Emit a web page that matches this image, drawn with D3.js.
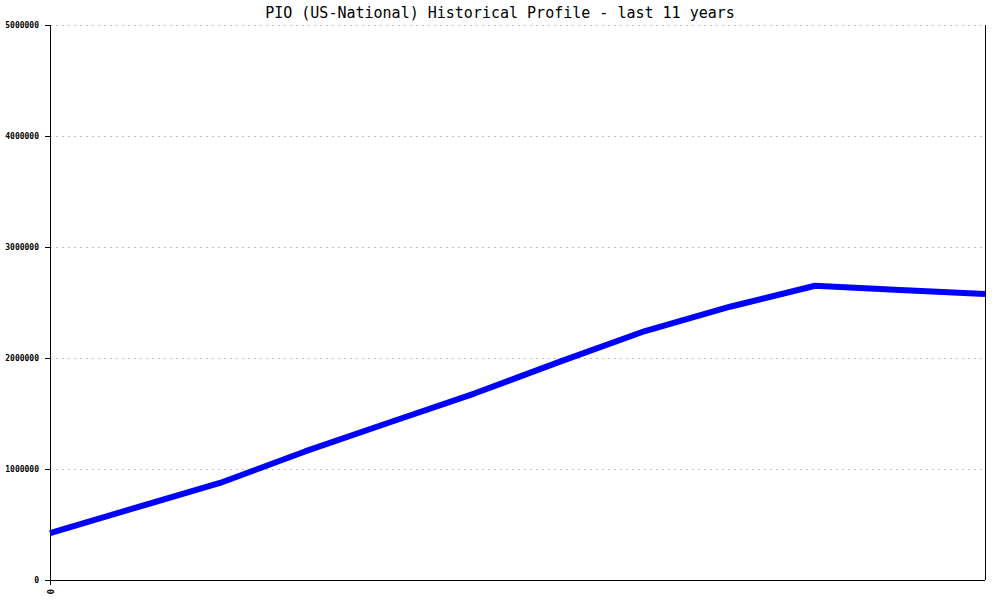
<!DOCTYPE html>
<html><head><meta charset="utf-8">
<script src="https://cdn.jsdelivr.net/npm/d3@7"></script>
<style>body{margin:0;background:#fff}svg{display:block}</style>
</head><body><svg id="c" width="1000" height="600"></svg>
<script>
const title = "PIO (US-National) Historical Profile - last 11 years";
const periods = [0,1,2,3,4,5,6,7,8,9,10,11];
const values = [423000, 649000, 874000, 1158000, 1421000, 1682000, 1967000, 2243000, 2462000, 2651000, 2613000, 2577000];
const yTicks = [0, 1000000, 2000000, 3000000, 4000000, 5000000];
const xTickLabels = ["0"];

const svg = d3.select("#c");
const L = 50, R = 985, T = 25, B = 580;
const x = d3.scaleLinear().domain([0, periods.length - 1]).range([L, R]);
const y = d3.scaleLinear().domain([0, 5000000]).range([B, T]);

svg.append("text").attr("x", 500).attr("y", 18).attr("text-anchor", "middle")
  .attr("font-family", "DejaVu Sans Mono, monospace").attr("font-size", 15).attr("fill", "#000").text(title);

// grid
svg.append("g").selectAll("line").data(yTicks.filter(d => d > 0)).join("line")
  .attr("x1", L).attr("x2", R).attr("y1", d => y(d) + 0.5).attr("y2", d => y(d) + 0.5)
  .attr("stroke", "#c0c0c0").attr("stroke-dasharray", "2,4").attr("shape-rendering", "crispEdges");

// y axis
const yAxis = d3.axisLeft(y).tickValues(yTicks).tickSize(5).tickPadding(6).tickFormat(d3.format("d"));
const gy = svg.append("g").attr("transform", `translate(${L},0)`).call(yAxis);
gy.select(".domain").remove();
gy.selectAll(".tick line").attr("stroke", "#000").attr("shape-rendering", "crispEdges");
gy.selectAll(".tick text").attr("font-family", "DejaVu Sans Mono, monospace").attr("font-size", 8).attr("font-weight", "bold").attr("fill", "#000");

// axis lines
svg.append("line").attr("x1", L + 0.5).attr("x2", L + 0.5).attr("y1", T).attr("y2", B).attr("stroke", "#000").attr("shape-rendering", "crispEdges");
svg.append("line").attr("x1", R + 0.5).attr("x2", R + 0.5).attr("y1", T).attr("y2", B).attr("stroke", "#000").attr("shape-rendering", "crispEdges");

// x axis
const xAxis = d3.axisBottom(x).tickValues([0]).tickSize(5).tickFormat((d, i) => xTickLabels[i]);
const gx = svg.append("g").attr("transform", `translate(0,${B})`).call(xAxis);
gx.select(".domain").remove();
gx.selectAll(".tick line").attr("stroke", "#000").attr("shape-rendering", "crispEdges");
gx.selectAll(".tick text").attr("font-family", "DejaVu Sans Mono, monospace").attr("font-size", 9).attr("font-weight", "bold").attr("fill", "#000")
  .attr("transform", "rotate(90)").attr("dy", "0.35em").attr("x", 9).attr("y", 0).attr("text-anchor", "start");
svg.append("line").attr("x1", L).attr("x2", R).attr("y1", B + 0.5).attr("y2", B + 0.5).attr("stroke", "#000").attr("shape-rendering", "crispEdges");

// line
const line = d3.line().x((d, i) => x(periods[i])).y(d => y(d));
svg.append("path").datum(values).attr("d", line).attr("fill", "none")
  .attr("stroke", "#0000ff").attr("stroke-width", 6).attr("stroke-linejoin", "round");
</script></body></html>
